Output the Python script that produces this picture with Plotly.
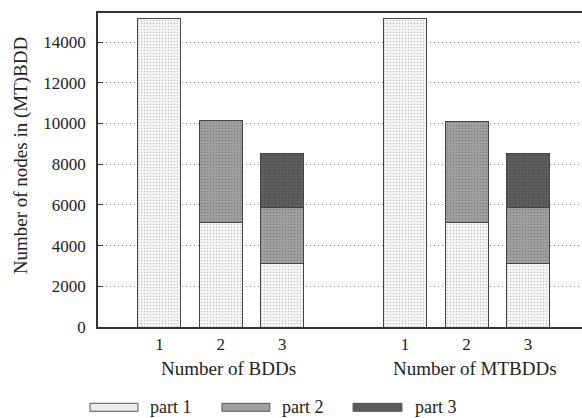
import plotly.graph_objects as go

# ---- data ----
positions = [1, 2, 3, 5, 6, 7]
tick_labels = ["1", "2", "3", "1", "2", "3"]
part1 = [15150, 5150, 3130, 15150, 5130, 3140]
part2 = [None, 5000, 2720, None, 4960, 2730]
part3 = [None, None, 2660, None, None, 2640]
group_labels = ["Number of BDDs", "Number of MTBDDs"]
group_centers = [2.13, 6.14]
series_names = ["part 1", "part 2", "part 3"]
y_ticks = [0, 2000, 4000, 6000, 8000, 10000, 12000, 14000]
y_tick_labels = ["0", "2000", "4000", "6000", "8000", "10000", "12000", "14000"]

FONT = "Liberation Serif, Times New Roman, serif"
styles = [
    dict(bg="#f6f6f6", fg="#8a8a8a", sol=0.18, swatch="#ececec"),
    dict(bg="#a3a3a3", fg="#6a6a6a", sol=0.35, swatch="#a0a0a0"),
    dict(bg="#606060", fg="#3a3a3a", sol=0.35, swatch="#5a5a5a"),
]

fig = go.Figure()
for vals, name, st in zip([part1, part2, part3], series_names, styles):
    fig.add_trace(go.Bar(
        x=positions, y=vals, name=name, width=0.7,
        marker=dict(
            color=st["bg"],
            line=dict(color="#444444", width=1),
            pattern=dict(shape=".", fgcolor=st["fg"], bgcolor=st["bg"],
                         size=3, solidity=st["sol"], fillmode="overlay"),
        ),
        showlegend=False,
    ))

fig.update_layout(
    barmode="stack",
    width=582, height=418,
    margin=dict(l=98, r=0, t=13, b=91),
    plot_bgcolor="white", paper_bgcolor="white",
    font=dict(family=FONT, size=17, color="#222222"),
    xaxis=dict(
        range=[0.0, 7.88], tickvals=positions, ticktext=tick_labels,
        showgrid=False, zeroline=False, showline=True, mirror=True,
        linecolor="#333333", linewidth=1.5, ticks="",
        ticklabelstandoff=1, tickfont=dict(size=17, family=FONT),
    ),
    yaxis=dict(
        range=[0, 15430], tickvals=y_ticks, ticktext=y_tick_labels,
        showgrid=True, gridcolor="#8a8a8a", griddash="1px,3px", gridwidth=1,
        zeroline=False, showline=True, linecolor="#333333", linewidth=1.5,
        ticks="inside", ticklen=5, tickcolor="#333333",
        ticklabelstandoff=7, tickfont=dict(size=17, family=FONT),
    ),
)

# y-axis title
fig.add_annotation(
    text="Number of nodes in (MT)BDD", textangle=-90,
    xref="paper", yref="paper", x=-0.159, y=0.544,
    showarrow=False, font=dict(size=19, family=FONT, color="#222222"),
    xanchor="center", yanchor="middle",
)

# group labels
for gx, gl in zip(group_centers, group_labels):
    fig.add_annotation(
        text=gl, xref="x", yref="paper", x=gx, y=-0.1315,
        showarrow=False, font=dict(size=19, family=FONT, color="#222222"),
        xanchor="center", yanchor="middle",
    )

# legend (manual, wide swatches)
legend_swatch_x = [(-0.0165, 0.0826), (0.256, 0.355), (0.527, 0.628)]
legend_text_x = [0.103, 0.376, 0.651]
for (x0, x1), tx, name, st in zip(legend_swatch_x, legend_text_x, series_names, styles):
    fig.add_shape(type="rect", xref="paper", yref="paper",
                  x0=x0, x1=x1, y0=-0.2685, y1=-0.2430,
                  fillcolor=st["swatch"], line=dict(color="#555555", width=1))
    fig.add_annotation(
        text=name, xref="paper", yref="paper", x=tx, y=-0.2557,
        showarrow=False, font=dict(size=18, family=FONT, color="#222222"),
        xanchor="left", yanchor="middle",
    )

fig.write_html("out.html", config={"displayModeBar": False},
               post_script="document.body.style.margin='0px';")
